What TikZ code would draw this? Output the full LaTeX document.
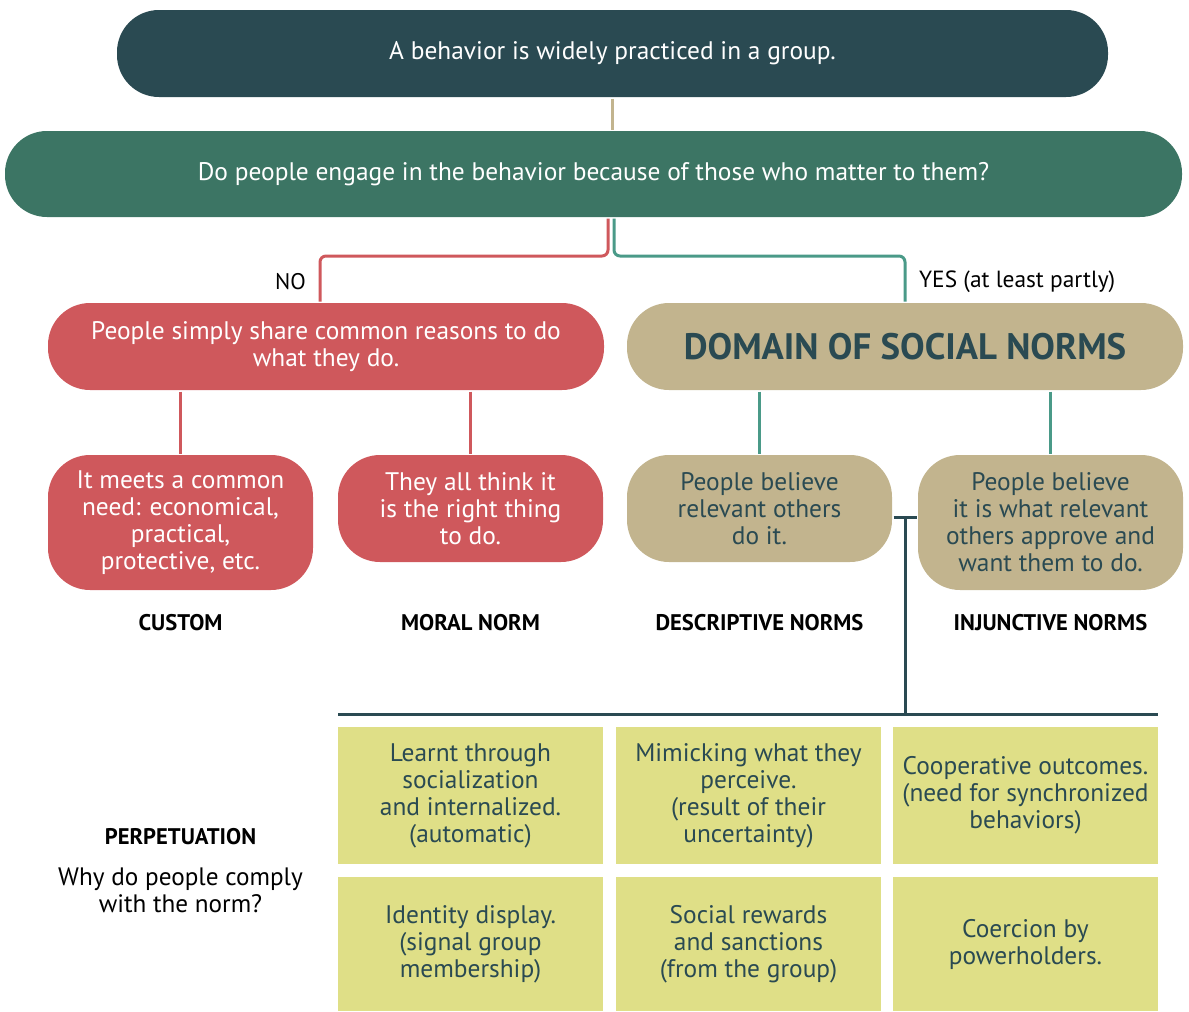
\documentclass[tikz,border=0pt]{standalone}
\usepackage{fontspec}
\setmainfont{PT Sans}
\usepackage{xcolor}
\definecolor{navy}{HTML}{2A4A52}
\definecolor{pine}{HTML}{3C7564}
\definecolor{brick}{HTML}{CF585C}
\definecolor{sand}{HTML}{C2B48E}
\definecolor{lime}{HTML}{DFDF87}
\definecolor{mint}{HTML}{4A9A88}
\tikzset{
  pill/.style={rounded corners=21pt, inner sep=0pt, align=center, font=\fontsize{12.7}{13.5}\selectfont},
  cell/.style={fill=lime, text=navy, inner sep=0pt, align=center, minimum width=132.5pt, font=\fontsize{12.7}{13.5}\selectfont},
  tag/.style={font=\fontsize{11.3}{12}\selectfont\bfseries},
}

\begin{document}
\begin{tikzpicture}[x=0.5pt, y=-0.5pt, line width=1.5pt]
\useasboundingbox (0,0) rectangle (1189,1012);
% header and question
\node[pill, fill=navy, text=white, minimum width=495.5pt, minimum height=43.5pt] (top) at (612.5,53.5) {A behavior is widely practiced in a group.};
\node[pill, fill=pine, text=white, minimum width=588.5pt, minimum height=43pt] (question) at (593.5,174) {Do people engage in the behavior because of those who matter to them?};
% two answers
\node[pill, fill=brick, text=white, minimum width=278pt, minimum height=43.5pt] (common) at (326,346.5) {People simply share common reasons to do\\what they do.};
\node[pill, fill=sand, text=navy, minimum width=278pt, minimum height=43.5pt, font=\fontsize{18.4}{20}\selectfont\bfseries] (domain) at (905,346.5) {DOMAIN OF SOCIAL NORMS};
% four kinds
\node[pill, fill=brick, text=white, minimum width=132.5pt, minimum height=67.5pt] (custom) at (180.5,522.5) {It meets a common\\need: economical,\\practical,\\protective, etc.};
\node[pill, fill=brick, text=white, minimum width=132.5pt, minimum height=53.5pt] (moral) at (470.5,508.5) {They all think it\\is the right thing\\to do.};
\node[pill, fill=sand, text=navy, minimum width=132.5pt, minimum height=53.5pt] (descr) at (759.5,508.5) {People believe\\relevant others\\do it.};
\node[pill, fill=sand, text=navy, minimum width=132.5pt, minimum height=67.5pt] (injunc) at (1050.5,522.5) {People believe\\it is what relevant\\others approve and\\want them to do.};
\node[tag] (customlbl) at (180.5,623) {CUSTOM};
\node[tag] (morallbl) at (470.5,623) {MORAL NORM};
\node[tag] (descrlbl) at (759.5,623) {DESCRIPTIVE NORMS};
\node[tag] (injunclbl) at (1050.5,623) {INJUNCTIVE NORMS};
% perpetuation grid
\node[cell, minimum height=68.5pt] (learnt) at (470.5,795.5) {Learnt through\\socialization\\and internalized.\\(automatic)};
\node[cell, minimum height=68.5pt] (mimic) at (748.5,795.5) {Mimicking what they\\perceive.\\(result of their\\uncertainty)};
\node[cell, minimum height=68.5pt] (coop) at (1025.5,795.5) {Cooperative outcomes.\\(need for synchronized\\behaviors)};
\node[cell, minimum height=67pt] (identity) at (470.5,944) {Identity display.\\(signal group\\membership)};
\node[cell, minimum height=67pt] (rewards) at (748.5,944) {Social rewards\\and sanctions\\(from the group)};
\node[cell, minimum height=67pt] (coercion) at (1025.5,944) {Coercion by\\powerholders.};
\node[tag] (perp) at (180.5,837) {PERPETUATION};
\node[align=center, font=\fontsize{12.6}{13.5}\selectfont] (why) at (180.5,890) {Why do people comply\\with the norm?};
% connectors
\coordinate (split) at (611,256);
\coordinate (junc) at (905,517);
\coordinate (ruleL) at (338,714);
\coordinate (ruleR) at (1158,714);
\draw[sand] (top.south) -- (top.south |- question.north);
\draw[brick, rounded corners=3pt] ([xshift=-1.5pt]split |- question.south) |- ([xshift=-3pt]common.north |- split) -- ([xshift=-3pt]common.north);
\draw[mint, rounded corners=3pt] ([xshift=1.5pt]split |- question.south) |- (domain.north |- split) -- (domain.north);
\node[font=\fontsize{11.3}{12}\selectfont, anchor=east] (no) at (314,282) {NO};
\node[font=\fontsize{11.7}{12}\selectfont, anchor=west] (yes) at (911,282) {YES (at least partly)};
\draw[brick] (common.south -| custom.north) -- (custom.north);
\draw[brick] (common.south -| moral.north) -- (moral.north);
\draw[mint] (domain.south -| descr.north) -- (descr.north);
\draw[mint] (domain.south -| injunc.north) -- (injunc.north);
\draw[navy] (descr.east |- junc) -- (injunc.west |- junc);
\draw[navy] (junc) -- (junc |- ruleL);
\draw[navy] (ruleL) -- (ruleR);
\end{tikzpicture}
\end{document}
